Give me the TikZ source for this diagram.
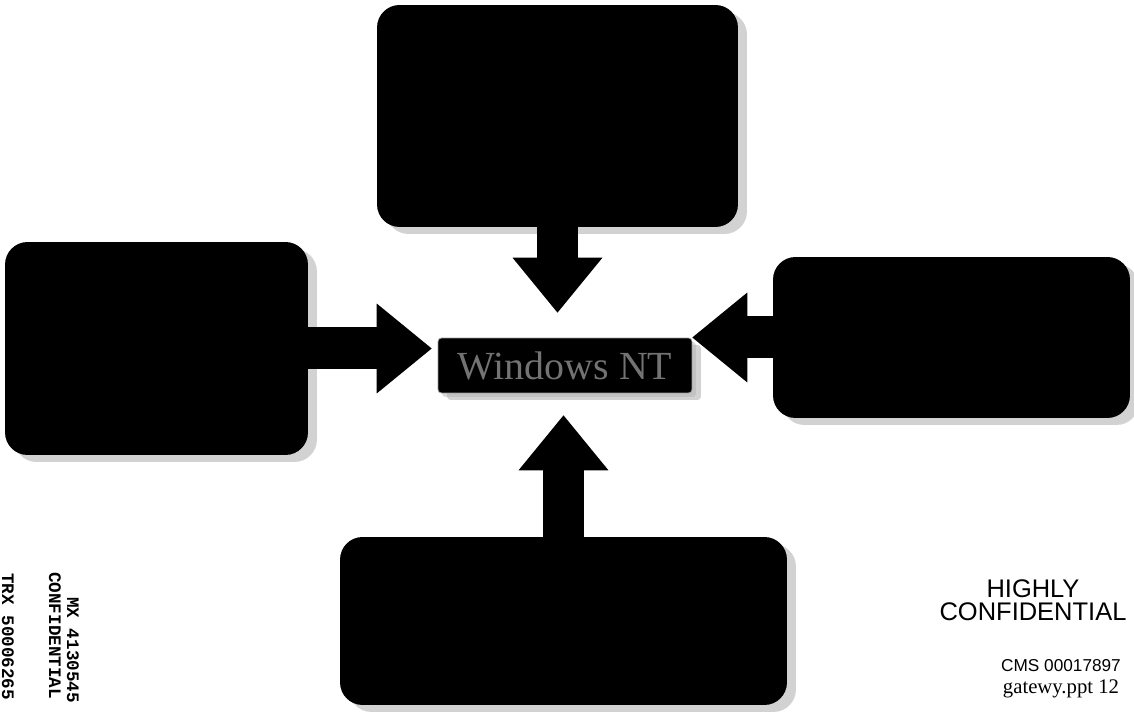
\documentclass[tikz,border=0pt]{standalone}
\usepackage{fontspec}
\setmainfont{Liberation Serif}
\setsansfont{Liberation Sans}
\setmonofont{Liberation Mono}
\usetikzlibrary{arrows.meta,shadows}
\begin{document}
\begin{tikzpicture}[x=0.02cm,y=-0.02cm,
		panel/.style={fill=black,rounded corners=0.45cm,inner sep=0pt,drop shadow={shadow xshift=0.18cm,shadow yshift=-0.14cm,fill=black!35}},
		feed/.style={line width=0.84cm,-{Triangle[length=1.1cm 0 0,width=1.8cm 0 0,line width=0pt]}},
		stamp/.style={font=\ttfamily\bfseries\fontsize{10}{12}\selectfont,rotate=-90,anchor=west,inner sep=0pt}]
		\useasboundingbox (0,0) rectangle (1134,712);
		\node[panel,minimum width=7.22cm,minimum height=4.44cm] (top) at (557.5,116) {};
		\node[panel,minimum width=6.06cm,minimum height=4.26cm] (left) at (156.5,348.5) {};
		\node[panel,minimum width=7.14cm,minimum height=3.22cm] (right) at (951.5,337.5) {};
		\node[panel,minimum width=8.94cm,minimum height=3.36cm] (bottom) at (563.5,621) {};
		\node[panel,rounded corners=2pt,draw=black!40,minimum width=5.08cm,minimum height=1.1cm,text=black!55,font=\fontsize{22.7}{24}\selectfont,drop shadow={shadow xshift=0.08cm,shadow yshift=-0.08cm,fill=black!30}] (nt) at (565,365.5) {Windows NT};
		\draw[feed] (top.south) -- (top.south |- nt.north) [shorten >=0.5cm];
		\draw[feed,shorten >=0.44cm] (bottom.north) -- (bottom.north |- nt.south);
		\draw[feed,shorten >=0.12cm] (left.east) -- (left.east -| nt.west);
		\draw[feed] (right.west) -- (right.west -| nt.east);
		\node[font=\sffamily\fontsize{14.5}{13}\selectfont,align=center,inner sep=0pt] (hc) at (1033,600) {HIGHLY\\CONFIDENTIAL};
		\node[font=\sffamily\fontsize{9.8}{11}\selectfont,inner sep=0pt] (cms) at (1061,666) {CMS 00017897};
		\node[font=\fontsize{11.8}{13}\selectfont,inner sep=0pt] (ppt) at (1061,689) {gatewy.ppt 12};
		\node[stamp] (mx) at (73,597) {MX 4130545};
		\node[stamp] (conf) at (55,572) {CONFIDENTIAL};
		\node[stamp] (trx) at (8,573) {TRX 50006265};
	\end{tikzpicture}
\end{document}
